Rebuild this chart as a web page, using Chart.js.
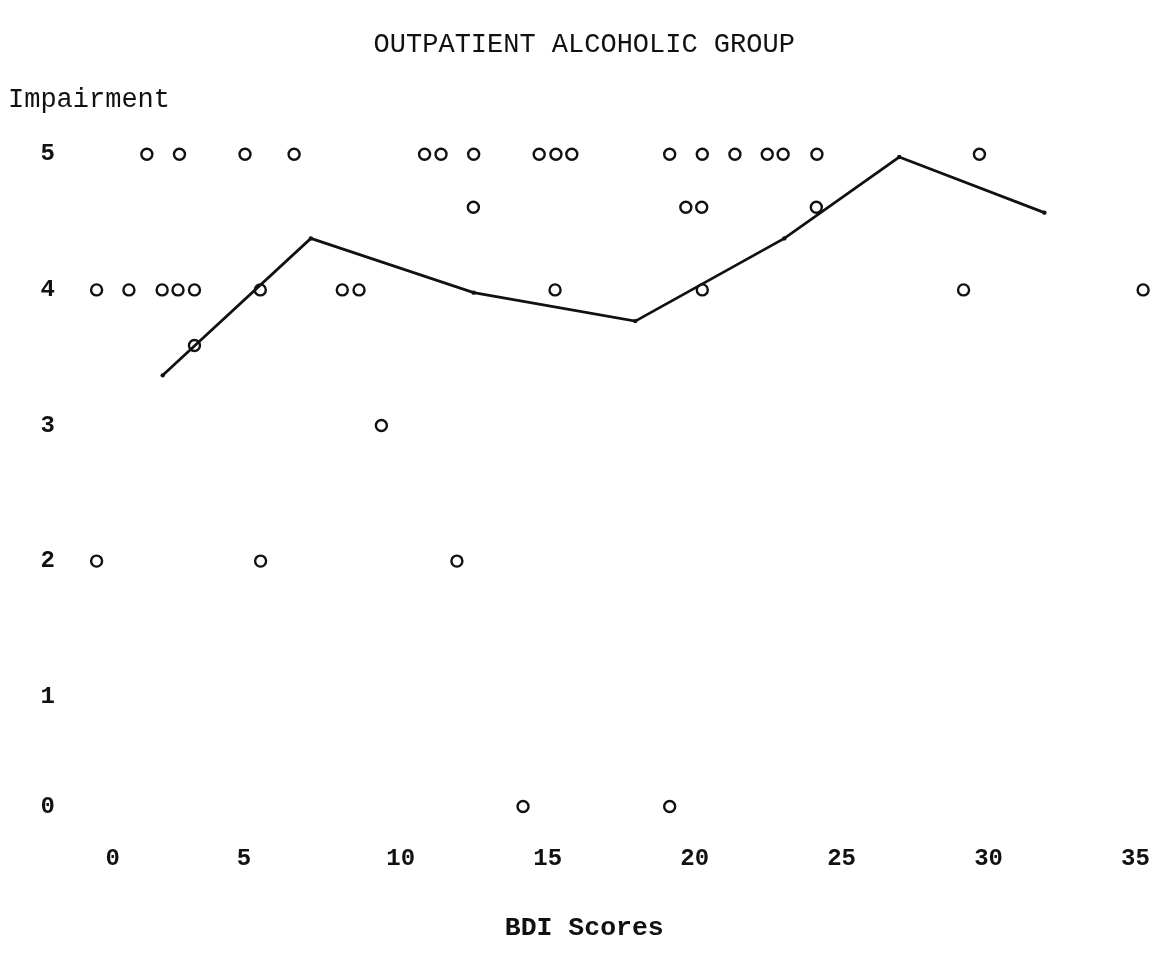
<!DOCTYPE html>
<html>
<head>
<meta charset="utf-8">
<script src="https://cdn.jsdelivr.net/npm/chart.js@4.4.1/dist/chart.umd.min.js"></script>
<style>
  html, body { margin: 0; padding: 0; background: #fff; }
  #wrap { width: 1162px; height: 954px; }
</style>
</head>
<body>
<div id="wrap"><canvas id="chart" width="1162" height="954"></canvas></div>
<script>
// BDI score of each "o", grouped by the impairment row it sits on
const level5 = [1.36, 2.47, 4.70, 6.37, 10.81, 11.37, 12.48, 14.71, 15.28, 15.82,
                19.15, 20.26, 21.37, 22.47, 23.01, 24.16, 29.69];
const level46 = [12.47, 19.70, 20.24, 24.14];
const level4 = [-0.35, 0.75, 1.88, 2.42, 2.98, 5.22, 8.01, 8.58, 15.25, 20.26, 29.15, 35.26];
const level36 = [2.98];
const level3 = [9.34];
const level2 = [-0.35, 5.23, 11.91];
const level0 = [14.16, 19.15];

// row heights as they sit on the printed scale (bottom row is squeezed upward)
const rowLevels = [5, 4.61, 4, 3.59, 3, 2, 0.19];
const rowScores = [level5, level46, level4, level36, level3, level2, level0];

// mean-impairment line
const lineX = [1.90, 6.94, 12.48, 17.98, 23.05, 26.96, 31.90];
const lineY = [3.37, 4.38, 3.98, 3.77, 4.38, 4.98, 4.57];

// tick labels and where they are printed
const xTickPos = [0.2, 4.66, 10, 15, 20, 25, 30, 35];
const xTickLabels = ["0", "5", "10", "15", "20", "25", "30", "35"];
const yTickPos = [5, 4, 3, 2, 1, 0.19];
const yTickLabels = ["5", "4", "3", "2", "1", "0"];

const MONO = "'Liberation Mono', 'Courier New', monospace";
const INK = "#111";

const scatterPoints = [];
rowScores.forEach((xs, r) => xs.forEach(x => scatterPoints.push({ x, y: rowLevels[r] })));
const linePoints = lineX.map((x, i) => ({ x, y: lineY[i] }));

const impairmentLabel = {
  id: "impairmentLabel",
  afterDraw(chart) {
    const ctx = chart.ctx;
    ctx.save();
    ctx.font = "27px " + MONO;
    ctx.fillStyle = INK;
    ctx.textBaseline = "middle";
    ctx.textAlign = "left";
    ctx.fillText("Impairment", 8, 100);
    ctx.restore();
  }
};

new Chart(document.getElementById("chart"), {
  type: "scatter",
  data: {
    datasets: [
      {
        type: "line",
        data: linePoints,
        borderColor: INK,
        borderWidth: 2.7,
        backgroundColor: INK,
        pointRadius: 2.2,
        pointBorderWidth: 0,
        tension: 0,
        fill: false
      },
      {
        data: scatterPoints,
        pointStyle: "circle",
        pointRadius: 5.5,
        pointBorderWidth: 2.4,
        borderColor: INK,
        backgroundColor: "rgba(0,0,0,0)"
      }
    ]
  },
  options: {
    responsive: false,
    animation: false,
    layout: { padding: { left: 12, right: 5.5, top: 0, bottom: 0 } },
    plugins: {
      legend: { display: false },
      tooltip: { enabled: false },
      title: {
        display: true,
        text: "OUTPATIENT ALCOHOLIC GROUP",
        color: INK,
        font: { family: MONO, size: 27, weight: "normal", lineHeight: 1.2 },
        padding: { top: 28.8, bottom: 66 }
      },
      subtitle: {
        display: true,
        position: "bottom",
        text: "BDI Scores",
        color: INK,
        font: { family: MONO, size: 26.5, weight: "bold", lineHeight: 1.2 },
        padding: { top: 34.8, bottom: 10.1 }
      }
    },
    scales: {
      x: {
        type: "linear",
        min: -1,
        max: 35.5,
        border: { display: false },
        grid: { display: false, drawTicks: false },
        afterBuildTicks(scale) {
          scale.ticks = xTickPos.map(v => ({ value: v }));
        },
        afterFit(scale) { scale.height = 45; },
        ticks: {
          autoSkip: false,
          maxRotation: 0,
          padding: 12,
          color: INK,
          font: { family: MONO, size: 24, weight: "bold", lineHeight: 1.2 },
          callback: (v, i) => xTickLabels[i]
        }
      },
      y: {
        type: "linear",
        min: 0,
        max: 5.2,
        border: { display: false },
        grid: { display: false, drawTicks: false },
        afterBuildTicks(scale) {
          scale.ticks = yTickPos.map(v => ({ value: v }));
        },
        afterFit(scale) { scale.width = 65.5; },
        ticks: {
          autoSkip: false,
          padding: 22.6,
          color: INK,
          font: { family: MONO, size: 24, weight: "bold", lineHeight: 1.2 },
          callback: (v, i) => yTickLabels[i]
        }
      }
    }
  },
  plugins: [impairmentLabel]
});
</script>
</body>
</html>
